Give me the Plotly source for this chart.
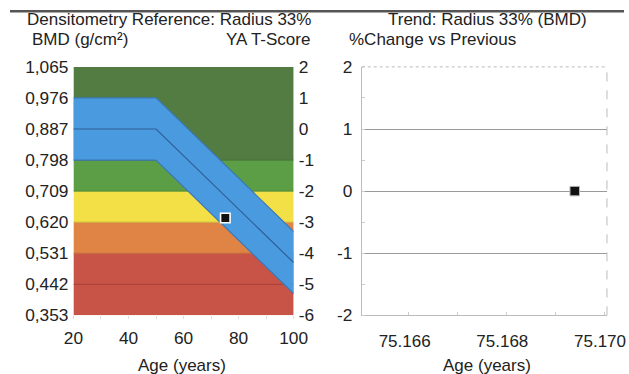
import plotly.graph_objects as go

# Layout is specified in picture pixels and converted to figure pixels;
# the rendered page is offset and scaled relative to the figure.
SX, OX = 0.954, 8.6
SY, OY = 0.95, 9.0
W, H = 643, 385

# --- Reference chart data -------------------------------------------------
bmd_ticks = [0.353, 0.442, 0.531, 0.620, 0.709, 0.798, 0.887, 0.976, 1.065]
bmd_tick_text = ["0,353", "0,442", "0,531", "0,620", "0,709", "0,798", "0,887", "0,976", "1,065"]
t_ticks = [-6, -5, -4, -3, -2, -1, 0, 1, 2]
t_tick_text = ["-6", "-5", "-4", "-3", "-2", "-1", "0", "1", "2"]
bmd_at_t0 = 0.887          # young-adult mean BMD (T = 0)
bmd_per_sd = 0.089         # g/cm2 per T-score unit

# T-score bands (upper, lower) and their fills
band_upper = [2, -1, -2, -3, -4]
band_lower = [-1, -2, -3, -4, -6]
band_fill = ["#527c42", "#5c9e46", "#f2e046", "#e08446", "#c85448"]
band_edge = ["#47703a", "#4b8a38", "#c9b437", "#bf6a36", "#a84238"]
extra_lines_t = [-5]       # faint reference line inside the red band

# Age-matched reference curve (mean T-score) and its +/-1 SD band
ref_age = [20, 50, 100]
ref_mean_t = [0, 0, -4.3]
ref_sd = 1.0

# Patient measurement
patient_age = [75.169]
patient_bmd = [0.632]

# --- Trend chart data -----------------------------------------------------
trend_age = [75.1694]
trend_change = [0.0]
trend_ticks = [75.166, 75.168, 75.170]
trend_y_ticks = [-2, -1, 0, 1, 2]
trend_y_text = ["-2", "-1", "0", "1", "2"]

AGE_MIN, AGE_MAX = 20, 100
T_MIN, T_MAX = -6, 2


def t_to_bmd(t):
    return bmd_at_t0 + t * bmd_per_sd


fig = go.Figure()

# Colour bands
for up, lo, fc in zip(band_upper, band_lower, band_fill):
    xs = [AGE_MIN, AGE_MAX, AGE_MAX, AGE_MIN, AGE_MIN]
    ys = [t_to_bmd(up), t_to_bmd(up), t_to_bmd(lo), t_to_bmd(lo), t_to_bmd(up)]
    fig.add_trace(go.Scatter(x=xs, y=ys, fill="toself", fillcolor=fc, mode="none",
                             hoverinfo="skip", showlegend=False, xaxis="x", yaxis="y"))
# band boundary lines
for lo, ec in zip(band_lower[:-1], band_edge[:-1]):
    fig.add_trace(go.Scatter(x=[AGE_MIN, AGE_MAX], y=[t_to_bmd(lo)] * 2, mode="lines",
                             line=dict(color=ec, width=1), hoverinfo="skip",
                             showlegend=False, xaxis="x", yaxis="y"))
for t in extra_lines_t:
    fig.add_trace(go.Scatter(x=[AGE_MIN, AGE_MAX], y=[t_to_bmd(t)] * 2, mode="lines",
                             line=dict(color="#a8403a", width=1), hoverinfo="skip",
                             showlegend=False, xaxis="x", yaxis="y"))

# Reference +/-1 SD band
upper = [t_to_bmd(m + ref_sd) for m in ref_mean_t]
lower = [t_to_bmd(m - ref_sd) for m in ref_mean_t]
mean = [t_to_bmd(m) for m in ref_mean_t]
fig.add_trace(go.Scatter(x=ref_age + ref_age[::-1], y=upper + lower[::-1], fill="toself",
                         fillcolor="#4a9ae0", mode="none", hoverinfo="skip",
                         showlegend=False, xaxis="x", yaxis="y"))
for ys in (upper, lower):
    fig.add_trace(go.Scatter(x=ref_age, y=ys, mode="lines",
                             line=dict(color="#3a78b8", width=1.2), hoverinfo="skip",
                             showlegend=False, xaxis="x", yaxis="y"))
fig.add_trace(go.Scatter(x=ref_age, y=mean, mode="lines",
                         line=dict(color="#2f5f96", width=1.2), hoverinfo="skip",
                         showlegend=False, xaxis="x", yaxis="y"))

# Patient point
fig.add_trace(go.Scatter(x=patient_age, y=patient_bmd, mode="markers",
                         marker=dict(symbol="square", size=9.5, color="#111111",
                                     line=dict(color="white", width=1.6)),
                         showlegend=False, xaxis="x", yaxis="y"))

# Trend point
fig.add_trace(go.Scatter(x=trend_age, y=trend_change, mode="markers",
                         marker=dict(symbol="square", size=9.5, color="#111111",
                                     line=dict(color="#bbbbbb", width=1)),
                         showlegend=False, xaxis="x2", yaxis="y2"))

# invisible trace so the T-score axis is drawn
fig.add_trace(go.Scatter(x=[AGE_MIN], y=[T_MIN], mode="markers", opacity=0,
                         hoverinfo="skip", showlegend=False, xaxis="x", yaxis="y3"))


def fx(p):
    """picture x (px) -> paper fraction"""
    return ((p - OX) / SX) / W


def fy(p):
    """picture y (px, from top) -> paper fraction"""
    return 1 - ((p - OY) / SY) / H


FONT = "Liberation Sans, Arial, sans-serif"
TXT = "#222222"
FS = 17.3
left_dom = [fx(72), fx(292)]
right_dom = [fx(360), fx(605)]
y_dom = [fy(315), fy(66)]

fig.update_layout(
    width=W, height=H,
    margin=dict(l=0, r=0, t=0, b=0),
    paper_bgcolor="white", plot_bgcolor="white",
    font=dict(family=FONT, size=FS, color=TXT),
    xaxis=dict(domain=left_dom, range=[AGE_MIN, AGE_MAX], anchor="y",
               tickvals=[20, 40, 60, 80, 100], ticks="", showgrid=False,
               zeroline=False, showline=False, fixedrange=True, ticklabelstandoff=10,
               minor=dict(dtick=10, ticks="outside", ticklen=3, tickcolor="#dddddd")),
    yaxis=dict(domain=y_dom, range=[bmd_ticks[0], bmd_ticks[-1]], anchor="x",
               tickvals=bmd_ticks, ticktext=bmd_tick_text, showgrid=False,
               zeroline=False, showline=False, ticks="", fixedrange=True,
               ticklabelstandoff=4),
    yaxis3=dict(domain=y_dom, range=[T_MIN, T_MAX], overlaying="y", side="right",
                anchor="x", tickvals=t_ticks, ticktext=t_tick_text, showgrid=False,
                zeroline=False, showline=False, ticks="", fixedrange=True,
                ticklabelstandoff=4),
    xaxis2=dict(domain=right_dom, range=[75.16504, 75.17006], anchor="y2",
                tickvals=trend_ticks, ticktext=[f"{v:.3f}" for v in trend_ticks],
                showgrid=False, zeroline=False, showline=True, linecolor="#bbbbbb",
                ticks="", fixedrange=True, ticklabelstandoff=10, ticklabelshift=-4,
                tickfont=dict(size=17),
                minor=dict(dtick=0.001, tick0=75.166, ticks="inside", ticklen=3,
                           tickcolor="#cccccc")),
    yaxis2=dict(domain=y_dom, range=[-2, 2], anchor="x2", tickvals=trend_y_ticks,
                ticktext=trend_y_text, showgrid=True, gridcolor="#9a9a9a", gridwidth=1,
                zeroline=False, showline=True, linecolor="#bbbbbb", ticks="",
                fixedrange=True, ticklabelstandoff=5,
                minor=dict(dtick=0.5, ticks="inside", ticklen=3, tickcolor="#cccccc")),
    showlegend=False,
)

# dotted top and dashed right frame of the trend panel
fig.add_shape(type="line", xref="x2 domain", yref="y2 domain", x0=0, x1=1, y0=1, y1=1,
              line=dict(color="#bbbbbb", width=1, dash="dot"))
fig.add_shape(type="line", xref="x2 domain", yref="y2 domain", x0=1, x1=1, y0=0, y1=1,
              line=dict(color="#bbbbbb", width=1, dash="dash"))

annotations = [
    ("Densitometry Reference: Radius 33%", 167, 19, "center"),
    ("BMD (g/cm²)", 30, 38.5, "left"),
    ("YA T-Score", 309, 38.5, "right"),
    ("Trend: Radius 33% (BMD)", 486, 19, "center"),
    ("%Change vs Previous", 346, 38.5, "left"),
    ("Age (years)", 180, 365, "center"),
    ("Age (years)", 485, 365, "center"),
]
for text, x, y, anchor in annotations:
    fig.add_annotation(text=text, x=fx(x), y=fy(y), xref="paper", yref="paper",
                       xanchor=anchor, yanchor="middle", showarrow=False, borderpad=0,
                       font=dict(family=FONT, size=17, color=TXT))

# dark rule across the top of the page
fig.add_shape(type="line", xref="paper", yref="paper", x0=0, x1=1,
              y0=1 - 1.2 / H, y1=1 - 1.2 / H, line=dict(color="#555555", width=2.5))

fig.write_html("out.html")
